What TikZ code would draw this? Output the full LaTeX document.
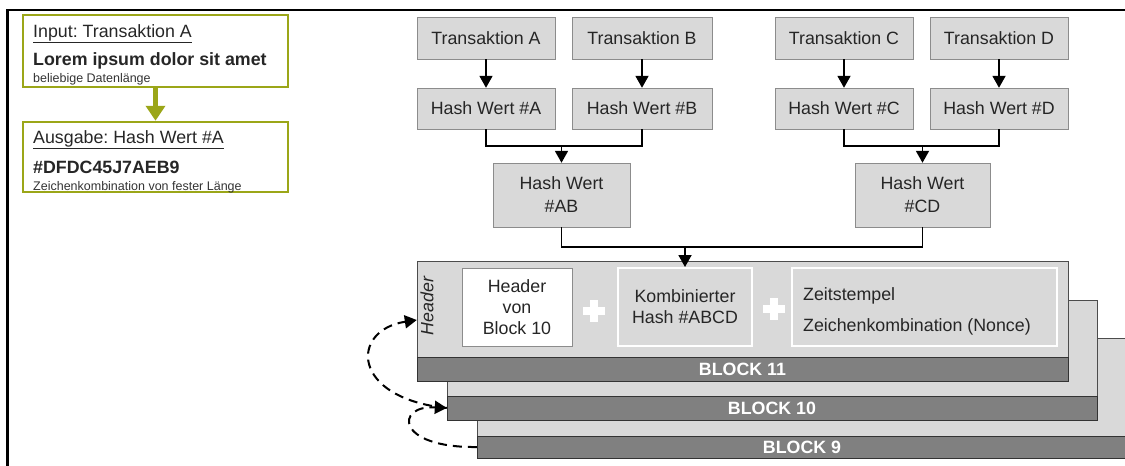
\documentclass[tikz,border=0pt]{standalone}
\usepackage{fontspec}
\setmainfont{Liberation Sans}
\usepackage{tikz}
\usetikzlibrary{arrows.meta}
\tikzset{>={Triangle[width=13pt,length=12pt]}}

\definecolor{boxgray}{RGB}{217,217,217}
\definecolor{bandgray}{RGB}{128,128,128}
\definecolor{hashgreen}{RGB}{155,166,24}

\begin{document}
\frenchspacing
\begin{tikzpicture}[x=1pt,y=-1pt,
    txt/.style={inner sep=0pt,text=black!85,font=\fontsize{17.8}{21}\selectfont},
    note/.style={inner sep=0pt,text=black!80,font=\fontsize{12.5}{14}\selectfont},
    grayfill/.style={txt,draw=black!45,fill=boxgray,align=center},
    whitefill/.style={txt,draw=black!45,fill=white,align=center},
    innerbox/.style={txt,draw=white,line width=2pt,fill=boxgray,align=center},
    greenbox/.style={draw=hashgreen,line width=2.5pt,inner sep=0pt},
    greenarrow/.style={-{Triangle[width=19pt,length=15pt]},hashgreen,line width=5pt},
    blockbody/.style={draw=black!70,fill=boxgray,inner sep=0pt},
    blockband/.style={draw=black!80,fill=bandgray,inner sep=0pt,text=white,
                      font=\fontsize{17.8}{21}\selectfont\bfseries},
    conn/.style={line width=1.8pt,black},
    backlink/.style={->,line width=2pt,dash pattern=on 9pt off 6pt},
    pluscross/.style={white,line width=7.5pt}]
  \useasboundingbox (0,0) rectangle (1125,466);

  % HELP FUNCTION
  \def\grayBox(#1,#2,#3,#4,#5,#6){ % name, left, top, right, bottom, text
    \node[grayfill,minimum width={(#4-#2)*1pt},minimum height={(#5-#3)*1pt}]
      (#1) at ({(#2+#4)/2},{(#3+#5)/2}) {#6};
  }
  \def\drawBlock(#1,#2,#3,#4,#5,#6){ % number, left, right, top, band top, bottom
    \node[blockbody,minimum width={(#3-#2)*1pt},minimum height={(#5-#4)*1pt}]
      (body#1) at ({(#2+#3)/2},{(#4+#5)/2}) {};
    \node[blockband,minimum width={(#3-#2)*1pt},minimum height={(#6-#5)*1pt}]
      (band#1) at ({(#2+#3)/2},{(#5+#6)/2}) {BLOCK #1};
  }

  % FRAME
  \draw[line width=2.5pt] (7.5,470) -- (7.5,10) -- (1130,10);

  % HASH EXAMPLE
  \node[greenbox,minimum width=265pt,minimum height=72pt] (inBox) at (155.5,51) {};
  \node[greenbox,minimum width=265pt,minimum height=70pt] (outBox) at (155.5,157) {};
  \node[txt,anchor=base west] (inTitle) at (33,37) {\underline{Input: Transaktion A}};
  \node[txt,anchor=base west,font=\fontsize{17.8}{21}\selectfont\bfseries]
    (inData) at (33,65) {Lorem ipsum dolor sit amet};
  \node[note,anchor=base west] (inNote) at (33,82) {beliebige Datenlänge};
  \node[txt,anchor=base west] (outTitle) at (33,143) {\underline{Ausgabe: Hash Wert \#A}};
  \node[txt,anchor=base west,font=\fontsize{17.8}{21}\selectfont\bfseries]
    (outData) at (33,173) {\#DFDC45J7AEB9};
  \node[note,anchor=base west] (outNote) at (33,190) {Zeichenkombination von fester Länge};
  \draw[greenarrow] (inBox) -- (outBox);

  % BLOCKS
  \drawBlock(9,477,1127,338,436,458)
  \drawBlock(10,447,1097,300,396,420)
  \drawBlock(11,417,1068,261,357,381)
  \node[txt,font=\fontsize{17.8}{21}\selectfont\itshape,rotate=90] (hdrLabel) at (427,306) {Header};
  \node[whitefill,minimum width=110pt,minimum height=78pt] (hdrBox) at (517,307) {Header\\von\\Block 10};
  \node[innerbox,minimum width=134pt,minimum height=78pt] (kombi) at (685,307) {Kombinierter\\Hash \#ABCD};
  \node[innerbox,minimum width=265pt,minimum height=78pt] (zeit) at (924.5,307) {};
  \node[txt,anchor=base west] (zeitA) at (803,300) {Zeitstempel};
  \node[txt,anchor=base west] (zeitB) at (803,331) {Zeichenkombination (Nonce)};
  \coordinate (plusA) at (594,311);
  \coordinate (plusB) at (774,309);
  \foreach \p in {plusA,plusB}
    \draw[pluscross] (\p) ++(-11,0) -- ++(22,0) (\p) ++(0,-11) -- ++(0,22);

  % TRANSACTIONS
  \grayBox(tA,417,17,555,59,Transaktion A)
  \grayBox(tB,572,17,712,59,Transaktion B)
  \grayBox(tC,775,17,913,59,Transaktion C)
  \grayBox(tD,930,17,1068,59,Transaktion D)
  \grayBox(hA,417,88,555,129,Hash Wert \#A)
  \grayBox(hB,572,88,712,129,Hash Wert \#B)
  \grayBox(hC,775,88,913,129,Hash Wert \#C)
  \grayBox(hD,930,88,1068,129,Hash Wert \#D)
  \grayBox(hAB,493,163,630,227,Hash Wert\\[2pt]\#AB)
  \grayBox(hCD,855,163,990,227,Hash Wert\\[2pt]\#CD)

  % HASH TREE
  \foreach \x in {A,B,C,D}
    \draw[->,conn] (t\x) -- (h\x);
  \coordinate (jAB) at (561.5,146);
  \coordinate (jCD) at (922.5,146);
  \coordinate (jABCD) at (685,247);
  \draw[conn] (hA.south) |- (jAB) -| (hB.south);
  \draw[conn] (hC.south) |- (jCD) -| (hD.south);
  \draw[->,conn] (jAB) -- (hAB);
  \draw[->,conn] (jCD) -- (hCD);
  \draw[conn] (hAB.south) |- (jABCD) -| (hCD.south);
  \draw[->,conn] (jABCD) -- (kombi.north);

  % LINKS
  \coordinate (hdrIn) at (body11.west |- 0,320);
  \draw[backlink] (band10.west) .. controls (350,398) and (350,330) .. (hdrIn);
  \draw[backlink] (band9.west) .. controls (395,448) and (395,405) .. (band10.west);

\end{tikzpicture}
\end{document}
